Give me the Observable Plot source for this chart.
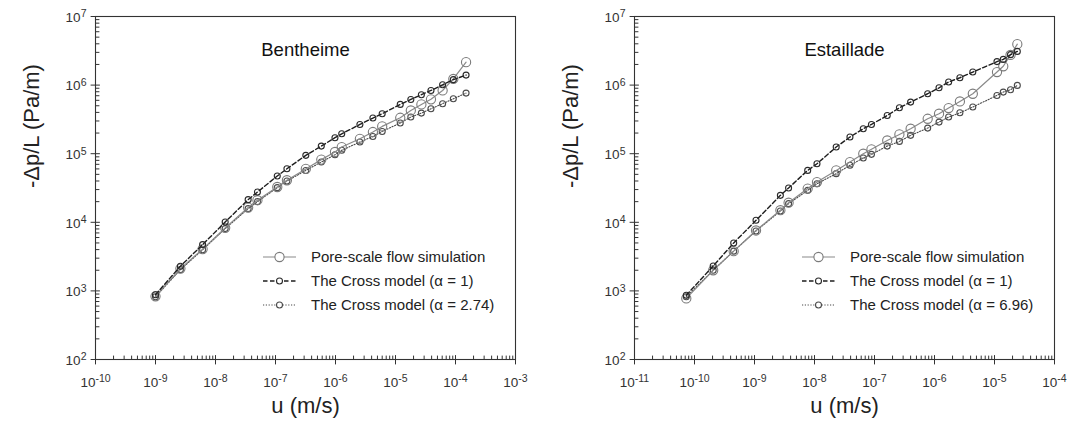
<!DOCTYPE html>
<html>
<head>
<meta charset="utf-8">
<script src="https://cdn.jsdelivr.net/npm/d3@7"></script>
<script src="https://cdn.jsdelivr.net/npm/@observablehq/plot@0.6"></script>
<style>
  html, body { margin: 0; padding: 0; background: #fff; }
  body { font-family: Arial, "Liberation Sans", sans-serif; color: #222; }
  #wrap { position: relative; width: 1080px; height: 431px; overflow: hidden; }
  .panel { position: absolute; top: 0; width: 540px; height: 431px; }
  .panel svg { display: block; }
  .legend { position: absolute; font-size: 15px; line-height: 24px; color: #222; }
  .legend .row { display: flex; align-items: center; height: 24px; white-space: nowrap; }
  .legend svg { margin-right: 15px; }
</style>
</head>
<body>
<div id="wrap"></div>
<script>
// ---------- data ----------
// Bentheime
const benU      = [1.0e-9, 2.6e-9, 6.1e-9, 1.45e-8, 3.5e-8, 5.0e-8, 1.07e-7, 1.55e-7, 3.2e-7, 5.8e-7, 9.8e-7, 1.27e-6, 2.55e-6, 4.2e-6, 6.0e-6, 1.2e-5, 1.8e-5, 2.7e-5, 3.9e-5, 6.1e-5, 9.2e-5, 1.5e-4];
const benPore   = [835, 2115, 4070, 8300, 16400, 21000, 32700, 41000, 60000, 82000, 106000, 125000, 165000, 207000, 250000, 334000, 427000, 523000, 620000, 835000, 1.23e6, 2.16e6];
const benCross1 = [880, 2290, 4730, 10100, 21400, 27600, 47300, 60300, 94600, 129000, 171000, 195000, 267000, 331000, 383000, 523000, 617000, 724000, 835000, 1.01e6, 1.2e6, 1.4e6];
const benCross2 = [820, 2040, 3980, 8090, 15800, 20000, 32000, 40000, 57000, 75600, 96700, 112000, 148000, 178000, 211000, 280000, 342000, 391000, 452000, 535000, 632000, 764000];
// Estaillade
const estU      = [7.3e-11, 2.05e-10, 4.5e-10, 1.06e-9, 2.7e-9, 3.7e-9, 7.7e-9, 1.1e-8, 2.3e-8, 3.9e-8, 6.5e-8, 8.9e-8, 1.63e-7, 2.6e-7, 4.0e-7, 7.7e-7, 1.19e-6, 1.72e-6, 2.65e-6, 4.35e-6, 1.1e-5, 1.4e-5, 1.85e-5, 2.4e-5];
const estPore   = [776, 2000, 3800, 7600, 15000, 19300, 31000, 38600, 57100, 75600, 100000, 116000, 156000, 191000, 231000, 323000, 383000, 463000, 578000, 748000, 1.55e6, 1.88e6, 2.75e6, 3.95e6];
const estCross1 = [865, 2310, 5000, 10700, 24700, 31600, 57100, 71400, 125000, 175000, 231000, 267000, 361000, 467000, 565000, 748000, 913000, 1.11e6, 1.28e6, 1.55e6, 2.2e6, 2.37e6, 2.78e6, 3.1e6];
const estCross2 = [820, 2000, 3800, 7480, 14600, 18700, 29200, 36500, 51200, 67700, 86500, 97800, 129000, 151000, 185000, 236000, 289000, 342000, 395000, 479000, 707000, 791000, 855000, 990000];

// ticks
const benXTicks = [1e-10, 1e-9, 1e-8, 1e-7, 1e-6, 1e-5, 1e-4, 1e-3];
const estXTicks = [1e-11, 1e-10, 1e-9, 1e-8, 1e-7, 1e-6, 1e-5, 1e-4];
const yTicks    = [1e2, 1e3, 1e4, 1e5, 1e6, 1e7];

// labels
const titles = ["Bentheime", "Estaillade"];
const xLabel = "u (m/s)";
const yLabel = "-\u0394p/L (Pa/m)";
const seriesNames = ["Pore-scale flow simulation", "The Cross model (\u03b1 = 1)"];
const cross2Names = ["The Cross model (\u03b1 = 2.74)", "The Cross model (\u03b1 = 6.96)"];

// ---------- styles ----------
const AX = "#333";
const styles = {
  pore:   {stroke: "#8a8a8a", dash: null,      r: 4.6, dotStroke: "#7a7a7a", width: 1.2},
  cross1: {stroke: "#1e1e1e", dash: "4.5,2.5", r: 3.0, dotStroke: "#2a2a2a", width: 1.4},
  cross2: {stroke: "#4a4a4a", dash: "1.2,1.6", r: 3.0, dotStroke: "#4a4a4a", width: 1.1}
};

const tickShape = {draw(context, l) { context.moveTo(0, 0); context.lineTo(0, -l); }};
const minorOf = ticks => ticks.slice(0, -1).flatMap(d => d3.range(2, 10).map(k => d * k));
const expFmt = d => "10^" + Math.round(Math.log10(d));

function fixSup(svg) {
  svg.querySelectorAll("text").forEach(t => {
    const m = /^10\^(-?\d+)$/.exec(t.textContent);
    if (m) {
      t.textContent = "10";
      const ts = document.createElementNS("http://www.w3.org/2000/svg", "tspan");
      ts.setAttribute("dy", "-0.42em");
      ts.setAttribute("font-size", "0.78em");
      ts.textContent = m[1];
      t.appendChild(ts);
    }
  });
}

function makePanel(title, u, pore, c1, c2, xTicks, marginLeft) {
  const rows = (vals) => u.map((x, i) => ({u: x, v: vals[i]}));
  const series = [
    [rows(c2), styles.cross2],
    [rows(pore), styles.pore],
    [rows(c1), styles.cross1]
  ];
  const xEnds = [xTicks[0], xTicks[xTicks.length - 1]];
  const yEnds = [yTicks[0], yTicks[yTicks.length - 1]];
  const vec = {shape: tickShape, stroke: AX, strokeWidth: 1, anchor: "start"};
  const marks = [
    Plot.frame({stroke: AX, strokeWidth: 1.1}),
    // x ticks: major cross the axis, minor inward
    Plot.vector(xTicks, {...vec, x: d => d, frameAnchor: "bottom", rotate: 0, length: 4}),
    Plot.vector(xTicks, {...vec, x: d => d, frameAnchor: "bottom", rotate: 180, length: 4.5}),
    Plot.vector(minorOf(xTicks), {...vec, x: d => d, frameAnchor: "bottom", rotate: 0, length: 3.5}),
    // y ticks
    Plot.vector(yTicks, {...vec, y: d => d, frameAnchor: "left", rotate: 90, length: 4}),
    Plot.vector(yTicks, {...vec, y: d => d, frameAnchor: "left", rotate: -90, length: 4.5}),
    Plot.vector(minorOf(yTicks), {...vec, y: d => d, frameAnchor: "left", rotate: 90, length: 3.5}),
    // tick labels
    Plot.text(xTicks, {x: d => d, text: expFmt, frameAnchor: "bottom", dy: 27, fontSize: 13.5, fill: "#333"}),
    Plot.text(yTicks, {y: d => d, text: expFmt, frameAnchor: "left", dx: -9, dy: 1, textAnchor: "end", fontSize: 13.5, fill: "#333"}),
    // axis titles
    Plot.text([xLabel], {frameAnchor: "bottom", dy: 53, fontSize: 22, fill: "#222"}),
    Plot.text([yLabel], {frameAnchor: "left", rotate: -90, dx: -64, fontSize: 22, fill: "#222"}),
    // panel title
    Plot.text([title], {frameAnchor: "top", dy: 26, fontSize: 18.5, fill: "#111"})
  ];
  for (const [data, s] of series) {
    marks.push(Plot.line(data, {x: "u", y: "v", stroke: s.stroke, strokeWidth: s.width, strokeDasharray: s.dash}));
    marks.push(Plot.dot(data, {x: "u", y: "v", r: s.r, stroke: s.dotStroke, strokeWidth: 1.1, fill: "none"}));
  }
  const svg = Plot.plot({
    width: 540, height: 431,
    marginLeft, marginRight: 540 - marginLeft - 420, marginTop: 16, marginBottom: 72,
    x: {type: "log", domain: xEnds, axis: null},
    y: {type: "log", domain: yEnds, axis: null},
    style: {fontFamily: "Arial, 'Liberation Sans', sans-serif", fontSize: "13.5px", color: "#222", background: "white", overflow: "visible"},
    marks
  });
  fixSup(svg);
  return svg;
}

function legendSymbol(s) {
  const ns = "http://www.w3.org/2000/svg";
  const svg = document.createElementNS(ns, "svg");
  svg.setAttribute("width", 33); svg.setAttribute("height", 12);
  const l = document.createElementNS(ns, "line");
  l.setAttribute("x1", 0); l.setAttribute("x2", 33); l.setAttribute("y1", 6); l.setAttribute("y2", 6);
  l.setAttribute("stroke", s.stroke); l.setAttribute("stroke-width", s.width);
  if (s.dash) l.setAttribute("stroke-dasharray", s.dash);
  const c = document.createElementNS(ns, "circle");
  c.setAttribute("cx", 16.5); c.setAttribute("cy", 6); c.setAttribute("r", s.r);
  c.setAttribute("fill", "white"); c.setAttribute("stroke", s.dotStroke); c.setAttribute("stroke-width", 1.1);
  svg.append(l, c);
  return svg;
}

function makeLegend(left, top, labels) {
  const div = document.createElement("div");
  div.className = "legend";
  div.style.left = left + "px"; div.style.top = top + "px";
  [styles.pore, styles.cross1, styles.cross2].forEach((s, i) => {
    const row = document.createElement("div"); row.className = "row";
    const span = document.createElement("span"); span.textContent = labels[i];
    row.append(legendSymbol(s), span);
    div.append(row);
  });
  return div;
}

const wrap = document.getElementById("wrap");
const p1 = document.createElement("div"); p1.className = "panel"; p1.style.left = "0px";
p1.append(makePanel(titles[0], benU, benPore, benCross1, benCross2, benXTicks, 95));
const p2 = document.createElement("div"); p2.className = "panel"; p2.style.left = "540px";
p2.append(makePanel(titles[1], estU, estPore, estCross1, estCross2, estXTicks, 94));
wrap.append(p1, p2);
wrap.append(makeLegend(263, 245, [seriesNames[0], seriesNames[1], cross2Names[0]]));
wrap.append(makeLegend(802, 245, [seriesNames[0], seriesNames[1], cross2Names[1]]));
</script>
</body>
</html>
